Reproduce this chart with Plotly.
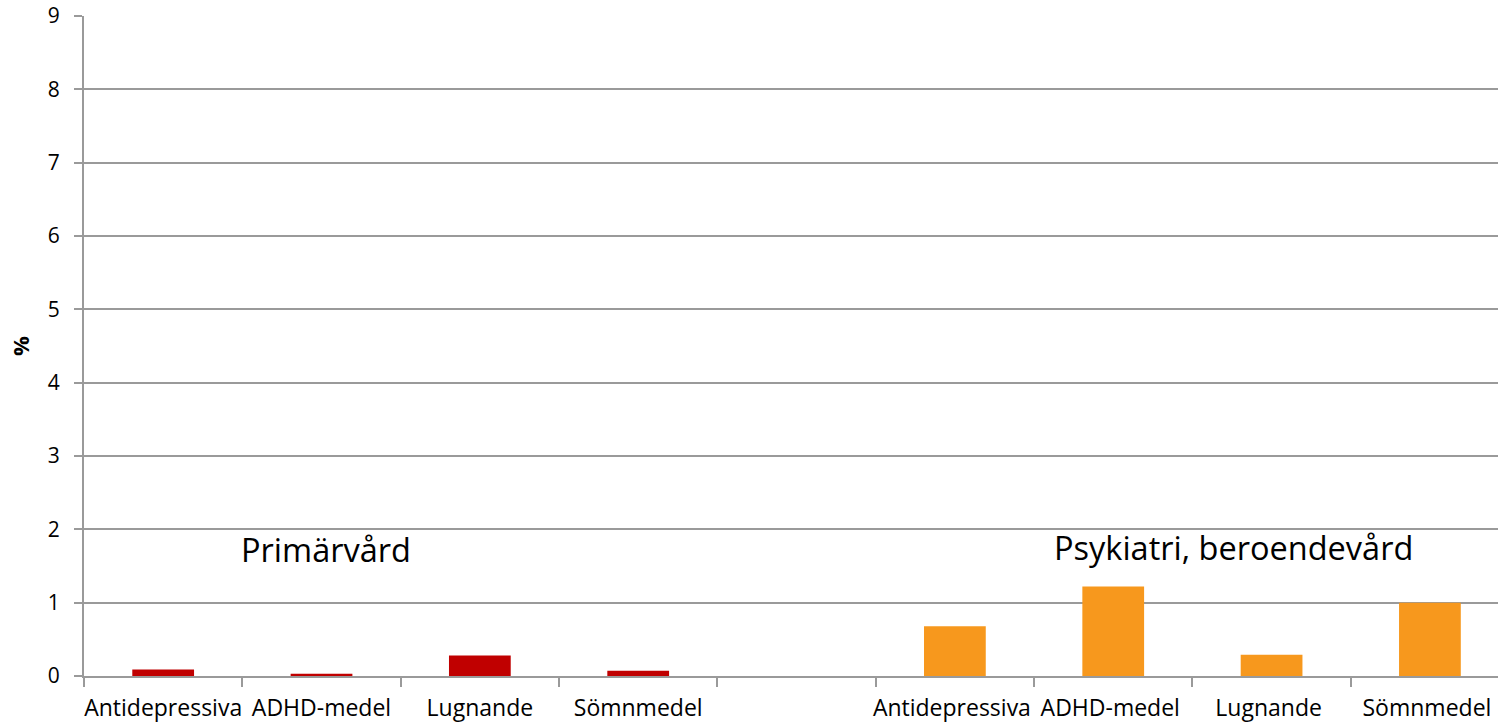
import plotly.graph_objects as go

# Läkemedelsgrupper per vårdform (andel i procent)
categories = ["Antidepressiva", "ADHD-medel", "Lugnande", "Sömnmedel"]
primarvard_values = [0.09, 0.03, 0.28, 0.07]
psykiatri_values = [0.68, 1.22, 0.29, 1.0]

# Two groups separated by an empty slot; trailing spaces keep the
# second group's category names unique on the shared axis.
primarvard_x = categories
gap_x = [" "]
psykiatri_x = [c + " " for c in categories]
axis_categories = primarvard_x + gap_x + psykiatri_x

y_ticks = list(range(0, 10))

FONT = "Open Sans"
GRID = "#9a9a9a"

fig = go.Figure()
fig.add_trace(go.Bar(
    x=primarvard_x, y=primarvard_values, width=0.39,
    marker=dict(color="#C00000", line=dict(width=0)),
    name="Primärvård", showlegend=False,
))
fig.add_trace(go.Bar(
    x=psykiatri_x, y=psykiatri_values, width=0.39,
    marker=dict(color="#F7981D", line=dict(width=0)),
    name="Psykiatri, beroendevård", showlegend=False,
))

fig.add_annotation(x=0.48, y=1.72, xref="x", yref="y", text="Primärvård",
                   showarrow=False, xanchor="left", yanchor="middle",
                   font=dict(family=FONT, size=32.5, color="black"))
fig.add_annotation(x=5.615, y=1.75, xref="x", yref="y", text="Psykiatri, beroendevård",
                   showarrow=False, xanchor="left", yanchor="middle",
                   font=dict(family=FONT, size=32.5, color="black"))

fig.update_layout(
    width=1498, height=724,
    margin=dict(l=84, r=0, t=16, b=48, autoexpand=False),
    paper_bgcolor="white", plot_bgcolor="white",
    barmode="overlay",
    font=dict(family=FONT, size=21, color="black"),
    xaxis=dict(
        type="category", categoryorder="array", categoryarray=axis_categories,
        range=[-0.5, 8.43], automargin=False, tickangle=0,
        tickson="boundaries", ticks="outside", ticklen=9, tickwidth=2, tickcolor=GRID,
        showline=True, linecolor=GRID, linewidth=2,
        showgrid=False, zeroline=False,
        tickfont=dict(family=FONT, size=23, color="black"),
        ticklabelstandoff=10,
    ),
    yaxis=dict(
        range=[0, 9], tickvals=y_ticks, automargin=False,
        ticks="outside", ticklen=8, tickwidth=2, tickcolor=GRID,
        showline=True, linecolor=GRID, linewidth=2,
        showgrid=True, gridcolor=GRID, gridwidth=2,
        zeroline=False,
        tickfont=dict(family=FONT, size=21, color="black"),
        ticklabelstandoff=10,
        title=dict(text="<b>%</b>", font=dict(family=FONT, size=22, color="black"),
                   standoff=12),
    ),
)

fig.write_html("out.html")
